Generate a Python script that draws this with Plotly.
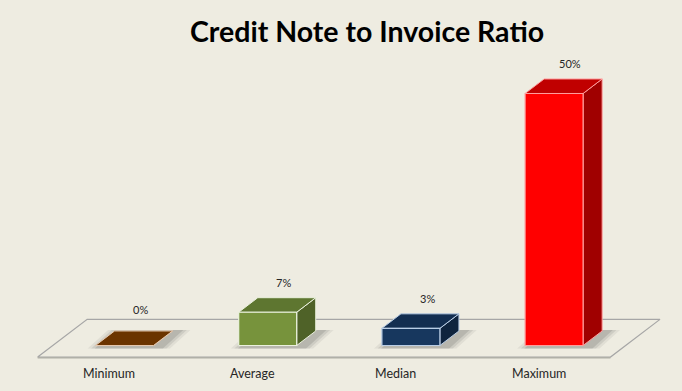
import plotly.graph_objects as go

# ---- data ----
categories = ["Minimum", "Average", "Median", "Maximum"]
values = [0.0, 6.6, 3.4, 50.0]          # percent
value_labels = ["0%", "7%", "3%", "50%"]
title_text = "Credit Note to Invoice Ratio"

# ---- styles ----
front_colors = ["#663300", "#77933C", "#17375E", "#FF0000"]
top_colors = ["#6B3400", "#5E7630", "#132E50", "#C00000"]
side_colors = ["#552A00", "#4F6228", "#0F243E", "#A00000"]
edge_colors = ["#E6C9B0", "#EBF1DE", "#B9CDE5", "#FF9C9C"]
BG = "#EEECE1"

HW = 0.2025     # half bar width (category units)
DX = 0.133      # depth offset x (category units)
DY = 2.88       # depth offset y (value units)

# axis ranges chosen to place the scene in the canvas
XR = [-0.8694, 3.8932]
YR = [-9.03, 68.55]

fig = go.Figure()

def poly(xs, ys, fill, line_color, width=1.0, opacity=1.0):
    fig.add_trace(go.Scatter(
        x=list(xs) + [xs[0]], y=list(ys) + [ys[0]], mode="lines",
        fill="toself", fillcolor=fill, opacity=opacity,
        line=dict(color=line_color, width=width),
        hoverinfo="skip", showlegend=False))

n = len(categories)
# floor
fl, fr = -0.5, n - 0.5
fx = [fl - 0.8 * DX, fr - 0.8 * DX, fr + 1.8 * DX, fl + 1.8 * DX]
fy = [-0.8 * DY, -0.8 * DY, 1.8 * DY, 1.8 * DY]
poly(fx, fy, BG, "#A6A6A6", 1.2)
fig.add_trace(go.Scatter(x=fx[:2], y=[fy[0] - 0.12, fy[1] - 0.12], mode="lines",
                         line=dict(color="#B0B0A8", width=1.5),
                         hoverinfo="skip", showlegend=False))

# soft shadows
for i, v in enumerate(values):
    for e, op in [(0.075, 0.08), (0.05, 0.12), (0.025, 0.16)]:
        sx = [i - HW - e + 0.02, i + HW + e + 0.04, i + HW + DX + e + 0.05, i - HW + DX - e + 0.03]
        sy = [-0.6, -0.6, DY + 0.2, DY + 0.2]
        poly(sx, sy, "rgba(70,70,70,1)", "rgba(0,0,0,0)", 0, op)

# bars
for i, v in enumerate(values):
    # side
    poly([i + HW, i + HW + DX, i + HW + DX, i + HW],
         [0, DY, v + DY, v], side_colors[i], edge_colors[i], 1.0)
    # top
    poly([i - HW, i + HW, i + HW + DX, i - HW + DX],
         [v, v, v + DY, v + DY], top_colors[i], edge_colors[i], 1.0)
    # front
    if v > 0:
        poly([i - HW, i + HW, i + HW, i - HW],
             [0, 0, v, v], front_colors[i], edge_colors[i], 1.2)

# value labels
for i, v in enumerate(values):
    fig.add_annotation(x=i + DX * 0.85, y=v + DY, text=value_labels[i],
                       showarrow=False, yanchor="bottom",
                       yshift=7 if v > 0 else 13,
                       font=dict(family="Lato, Open Sans, sans-serif", size=11, color="#262626"))

# category labels
for i, c in enumerate(categories):
    fig.add_annotation(x=i - 0.105, y=-5.65, text=c, showarrow=False,
                       yanchor="middle",
                       font=dict(family="Lato, Open Sans, sans-serif", size=12.5, color="#262626"))

fig.add_annotation(x=367 / 682, y=1 - 31 / 391, xref="paper", yref="paper",
                   text="<b>" + title_text + "</b>", showarrow=False,
                   xanchor="center", yanchor="middle",
                   font=dict(family="Lato, Open Sans, sans-serif", size=28.5, color="#000000"))

fig.update_layout(
    width=682, height=391, autosize=False,
    margin=dict(l=0, r=0, t=0, b=0),
    paper_bgcolor=BG, plot_bgcolor=BG,
    xaxis=dict(range=XR, visible=False, fixedrange=True),
    yaxis=dict(range=YR, visible=False, fixedrange=True),
    showlegend=False,
)

fig.write_html(
    "out.html",
    config={"displayModeBar": False, "staticPlot": True},
    post_script="document.body.style.margin='0';document.body.style.background='" + BG + "';",
)
